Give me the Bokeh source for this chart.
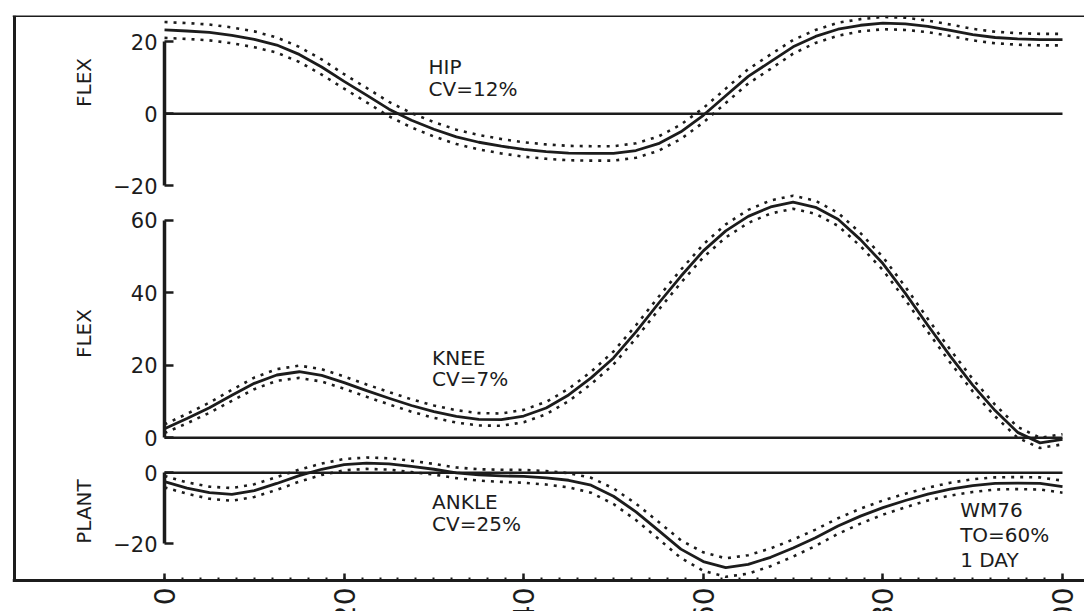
import math
from bokeh.plotting import figure
from bokeh.models import Range1d, LinearAxis, FixedTicker, Span
from bokeh.core.properties import value
from bokeh.embed import file_html
from bokeh.resources import INLINE

INK = "#1c1c1c"
FONT = "DejaVu Sans"

# % of gait cycle
pct = [0, 2.5, 5, 7.5, 10, 12.5, 15, 17.5, 20, 22.5, 25, 27.5, 30, 32.5, 35, 37.5,
       40, 42.5, 45, 47.5, 50, 52.5, 55, 57.5, 60, 62.5, 65, 67.5, 70, 72.5, 75,
       77.5, 80, 82.5, 85, 87.5, 90, 92.5, 95, 97.5, 100]

hip_mean = [23.3, 23.0, 22.6, 21.8, 20.7, 19.1, 16.5, 13.0, 9.0, 5.2, 1.3, -1.8, -4.3,
            -6.4, -7.9, -9.0, -9.9, -10.5, -10.9, -11.0, -11.0, -10.2, -8.3, -5.0, -0.4,
            5.0, 10.4, 14.5, 18.6, 21.5, 23.5, 24.6, 25.2, 25.0, 24.3, 23.2, 22.0, 21.2,
            20.8, 20.6, 20.6]
hip_sd = [2.2, 2.2, 2.2, 2.2, 2.2, 2.1, 2.1, 2.1, 2.0, 2.0, 2.0, 2.0, 2.0, 2.0, 2.0, 2.0,
          2.0, 2.0, 2.0, 2.0, 2.0, 2.0, 2.0, 2.0, 2.0, 2.0, 2.0, 2.0, 1.9, 1.8, 1.8, 1.7,
          1.7, 1.7, 1.6, 1.6, 1.6, 1.6, 1.6, 1.6, 1.6]

knee_mean = [2.5, 5.3, 8.3, 11.7, 15.0, 17.3, 18.2, 17.2, 15.2, 13.0, 10.9, 8.9, 7.2,
             5.9, 5.1, 5.0, 6.0, 8.2, 11.8, 16.5, 22.0, 29.2, 37.0, 44.5, 51.5, 57.0,
             61.0, 63.6, 64.9, 63.5, 60.2, 54.6, 48.0, 39.8, 31.0, 22.5, 14.5, 7.5, 1.5,
             -1.4, -0.4]
knee_sd = [1.2, 1.3, 1.4, 1.5, 1.6, 1.6, 1.7, 1.7, 1.7, 1.7, 1.7, 1.7, 1.7, 1.7, 1.7,
           1.7, 1.7, 1.7, 1.7, 1.7, 1.8, 1.8, 1.8, 1.8, 1.8, 1.8, 1.8, 1.8, 1.8, 1.8,
           1.8, 1.8, 1.8, 1.8, 1.8, 1.8, 1.7, 1.6, 1.5, 1.4, 1.4]

ankle_mean = [-2.5, -4.3, -5.6, -6.1, -5.0, -3.0, -0.8, 1.0, 2.3, 2.7, 2.5, 1.8, 1.0,
              0.0, -0.6, -0.85, -1.0, -1.4, -2.1, -3.5, -6.6, -11.0, -16.2, -21.5, -25.0,
              -26.7, -25.8, -23.8, -21.2, -18.3, -15.0, -12.2, -9.8, -7.8, -6.0, -4.6,
              -3.6, -3.0, -2.9, -3.0, -3.9]
ankle_sd = [1.6, 1.6, 1.7, 1.8, 1.8, 1.8, 1.7, 1.6, 1.6, 1.6, 1.6, 1.6, 1.5, 1.5, 1.6,
            1.7, 1.8, 1.9, 2.0, 2.1, 2.2, 2.3, 2.4, 2.5, 2.6, 2.6, 2.6, 2.5, 2.4, 2.3,
            2.2, 2.1, 2.0, 1.9, 1.8, 1.8, 1.8, 1.7, 1.7, 1.7, 1.7]

x_ticks = [0, 20, 40, 60, 80, 100]
x_minor_ticks = list(range(0, 101, 2))
hip_ticks = [-20, 0, 20]
knee_ticks = [0, 20, 40, 60]
ankle_ticks = [-20, 0]

X0, X1 = -16.93, 102.45
BASE = 0.052  # position of the bottom axis line within the plain 0..1 range

p = figure(width=1084, height=611, output_backend="svg", toolbar_location=None,
           x_range=Range1d(X0, X1), y_range=Range1d(0, 1),
           x_axis_type=None, y_axis_type=None,
           min_border_left=12, min_border_right=0, min_border_top=15, min_border_bottom=0,
           outline_line_color=None, background_fill_color="white",
           border_fill_color="white")
p.extra_y_ranges = {
    "hip": Range1d(-138.25, 27.31),
    "knee": Range1d(-47.85, 116.34),
    "ankle": Range1d(-39.07, 128.82),
}

# frame border lines (top, bottom, left)
p.add_layout(Span(location=1, dimension="width", line_color=INK, line_width=3))
p.add_layout(Span(location=BASE, dimension="width", line_color=INK, line_width=3))
border = LinearAxis(fixed_location=X0 + 0.17, bounds=(BASE, 1),
                    ticker=FixedTicker(ticks=[]), axis_line_color=INK, axis_line_width=3,
                    major_tick_in=0, major_tick_out=0, minor_tick_in=0, minor_tick_out=0)
p.add_layout(border, "left")

# bottom x axis
xa = LinearAxis(fixed_location=BASE, bounds=(0, 100),
                ticker=FixedTicker(ticks=x_ticks, minor_ticks=x_minor_ticks),
                axis_line_color=INK, axis_line_width=3,
                major_tick_in=7, major_tick_out=0, major_tick_line_color=INK,
                major_tick_line_width=2.5,
                minor_tick_in=3, minor_tick_out=0, minor_tick_line_color=INK,
                minor_tick_line_width=2,
                major_label_orientation=math.pi / 2, major_label_standoff=7,
                major_label_text_font=FONT, major_label_text_font_size="28px",
                major_label_text_color=INK)
p.add_layout(xa, "below")


def add_yaxis(name, ticks):
    ax = LinearAxis(y_range_name=name, fixed_location=0, bounds=(ticks[0], ticks[-1]),
                    ticker=FixedTicker(ticks=ticks),
                    axis_line_color=INK, axis_line_width=3.5,
                    major_tick_in=9, major_tick_out=0, major_tick_line_color=INK,
                    major_tick_line_width=2.5, minor_tick_in=0, minor_tick_out=0,
                    major_label_standoff=7, major_label_text_font=FONT,
                    major_label_text_font_size="21px", major_label_text_color=INK)
    p.add_layout(ax, "left")


add_yaxis("hip", hip_ticks)
add_yaxis("knee", knee_ticks)
add_yaxis("ankle", ankle_ticks)


def add_panel(name, mean, sd):
    upper = [m + s for m, s in zip(mean, sd)]
    lower = [m - s for m, s in zip(mean, sd)]
    p.segment(x0=pct[0], x1=pct[-1], y0=0, y1=0, y_range_name=name,
              line_color=INK, line_width=2.5)
    p.line(pct, upper, y_range_name=name, line_color=INK, line_width=2.6,
           line_dash="3 6")
    p.line(pct, lower, y_range_name=name, line_color=INK, line_width=2.6,
           line_dash="3 6")
    p.line(pct, mean, y_range_name=name, line_color=INK, line_width=2.8,
           line_join="round")


add_panel("hip", hip_mean, hip_sd)
add_panel("knee", knee_mean, knee_sd)
add_panel("ankle", ankle_mean, ankle_sd)

txt = dict(text_font=value(FONT), text_font_size="20px", text_color=INK,
           text_baseline="top", text_align="left")
p.text(x=[29.4, 29.4], y=[16.4, 10.1], text=["HIP", "CV=12%"], y_range_name="hip", **txt)
p.text(x=[29.8, 29.8], y=[25.4, 19.4], text=["KNEE", "CV=7%"], y_range_name="knee", **txt)
p.text(x=[29.8, 29.8], y=[-4.9, -11.0], text=["ANKLE", "CV=25%"], y_range_name="ankle", **txt)
p.text(x=[88.6, 88.6, 88.6], y=[-7.2, -14.0, -21.3], text=["WM76", "TO=60%", "1 DAY"],
       y_range_name="ankle", **txt)

lab = dict(text_font=value(FONT), text_font_size="20px", text_color=INK,
           text_baseline="middle", text_align="center", angle=math.pi / 2)
p.text(x=[-9.0], y=[8.7], text=["FLEX"], y_range_name="hip", **lab)
p.text(x=[-9.0], y=[28.7], text=["FLEX"], y_range_name="knee", **lab)
p.text(x=[-9.0], y=[-10.9], text=["PLANT"], y_range_name="ankle", **lab)

with open("out.html", "w") as f:
    f.write(file_html(p, INLINE))
